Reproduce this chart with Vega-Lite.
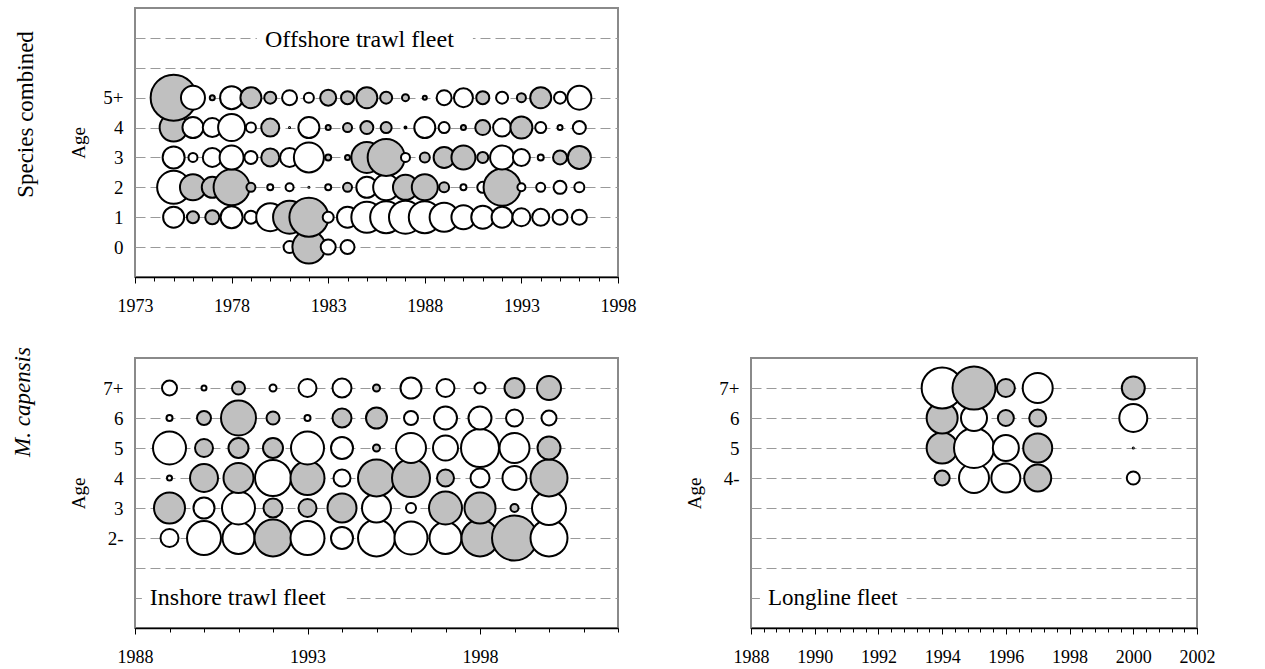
{
  "$schema": "https://vega.github.io/schema/vega-lite/v6.json",
  "padding": {"left": 10, "top": 7, "right": 5, "bottom": 5},
  "background": "white",
  "bounds": "flush",
  "spacing": 81,
  "config": {
    "font": "Liberation Serif",
    "view": {"stroke": "#8a8a8a", "strokeWidth": 2},
    "axis": {
      "labelFont": "Liberation Serif", "labelFontSize": 18, "labelColor": "#000000",
      "titleFont": "Liberation Serif", "titleFontSize": 19, "titleFontWeight": "normal", "titleColor": "#000000",
      "domainColor": "#000000", "tickColor": "#000000", "labelFlush": false, "labelOverlap": false, "labelBound": false
    },
    "title": {"font": "Liberation Serif", "fontSize": 23, "fontWeight": "normal", "color": "#000000"}
  },
  "datasets": {
    "offshore": [
      {"year":1981,"age":0,"resid":1.44,"sign":"pos"},{"year":1982,"age":0,"resid":10.89,"sign":"neg"},{"year":1983,"age":0,"resid":2.25,"sign":"pos"},{"year":1984,"age":0,"resid":1.96,"sign":"pos"},
      {"year":1975,"age":1,"resid":4.41,"sign":"pos"},{"year":1976,"age":1,"resid":1.44,"sign":"neg"},{"year":1977,"age":1,"resid":1.96,"sign":"neg"},{"year":1978,"age":1,"resid":4.84,"sign":"pos"},{"year":1979,"age":1,"resid":1.69,"sign":"pos"},{"year":1980,"age":1,"resid":7.84,"sign":"pos"},{"year":1981,"age":1,"resid":10.89,"sign":"neg"},{"year":1982,"age":1,"resid":15.21,"sign":"neg"},{"year":1983,"age":1,"resid":1.21,"sign":"pos"},{"year":1984,"age":1,"resid":4.41,"sign":"pos"},{"year":1985,"age":1,"resid":9.61,"sign":"pos"},{"year":1986,"age":1,"resid":10.24,"sign":"pos"},{"year":1987,"age":1,"resid":10.89,"sign":"pos"},{"year":1988,"age":1,"resid":10.24,"sign":"pos"},{"year":1989,"age":1,"resid":8.41,"sign":"pos"},{"year":1990,"age":1,"resid":5.76,"sign":"pos"},{"year":1991,"age":1,"resid":5.29,"sign":"pos"},{"year":1992,"age":1,"resid":4.41,"sign":"pos"},{"year":1993,"age":1,"resid":3.24,"sign":"pos"},{"year":1994,"age":1,"resid":2.89,"sign":"pos"},{"year":1995,"age":1,"resid":2.25,"sign":"pos"},{"year":1996,"age":1,"resid":2.25,"sign":"pos"},
      {"year":1975,"age":2,"resid":10.89,"sign":"pos"},{"year":1976,"age":2,"resid":6.76,"sign":"neg"},{"year":1977,"age":2,"resid":4.41,"sign":"neg"},{"year":1978,"age":2,"resid":12.96,"sign":"neg"},{"year":1979,"age":2,"resid":0.81,"sign":"neg"},{"year":1980,"age":2,"resid":0.36,"sign":"pos"},{"year":1981,"age":2,"resid":0.64,"sign":"pos"},{"year":1982,"age":2,"resid":0.01,"sign":"neg"},{"year":1983,"age":2,"resid":0.36,"sign":"pos"},{"year":1984,"age":2,"resid":0.81,"sign":"neg"},{"year":1985,"age":2,"resid":4.41,"sign":"pos"},{"year":1986,"age":2,"resid":6.76,"sign":"pos"},{"year":1987,"age":2,"resid":6.25,"sign":"neg"},{"year":1988,"age":2,"resid":6.76,"sign":"neg"},{"year":1989,"age":2,"resid":1.0,"sign":"neg"},{"year":1990,"age":2,"resid":0.36,"sign":"pos"},{"year":1991,"age":2,"resid":1.21,"sign":"pos"},{"year":1992,"age":2,"resid":13.69,"sign":"neg"},{"year":1993,"age":2,"resid":0.64,"sign":"pos"},{"year":1994,"age":2,"resid":0.81,"sign":"pos"},{"year":1995,"age":2,"resid":1.69,"sign":"pos"},{"year":1996,"age":2,"resid":1.0,"sign":"pos"},
      {"year":1975,"age":3,"resid":4.84,"sign":"pos"},{"year":1976,"age":3,"resid":0.81,"sign":"pos"},{"year":1977,"age":3,"resid":3.61,"sign":"pos"},{"year":1978,"age":3,"resid":5.76,"sign":"pos"},{"year":1979,"age":3,"resid":1.69,"sign":"pos"},{"year":1980,"age":3,"resid":3.24,"sign":"neg"},{"year":1981,"age":3,"resid":3.61,"sign":"pos"},{"year":1982,"age":3,"resid":9.0,"sign":"pos"},{"year":1983,"age":3,"resid":0.36,"sign":"neg"},{"year":1984,"age":3,"resid":0.25,"sign":"neg"},{"year":1985,"age":3,"resid":9.61,"sign":"neg"},{"year":1986,"age":3,"resid":13.69,"sign":"neg"},{"year":1987,"age":3,"resid":0.81,"sign":"pos"},{"year":1988,"age":3,"resid":1.0,"sign":"neg"},{"year":1989,"age":3,"resid":4.41,"sign":"neg"},{"year":1990,"age":3,"resid":5.76,"sign":"neg"},{"year":1991,"age":3,"resid":1.21,"sign":"neg"},{"year":1992,"age":3,"resid":5.76,"sign":"pos"},{"year":1993,"age":3,"resid":2.89,"sign":"pos"},{"year":1994,"age":3,"resid":0.36,"sign":"pos"},{"year":1995,"age":3,"resid":1.96,"sign":"neg"},{"year":1996,"age":3,"resid":5.29,"sign":"neg"},
      {"year":1975,"age":4,"resid":7.84,"sign":"neg"},{"year":1976,"age":4,"resid":4.41,"sign":"pos"},{"year":1977,"age":4,"resid":3.61,"sign":"pos"},{"year":1978,"age":4,"resid":7.29,"sign":"pos"},{"year":1979,"age":4,"resid":1.0,"sign":"pos"},{"year":1980,"age":4,"resid":3.24,"sign":"neg"},{"year":1981,"age":4,"resid":0.01,"sign":"neg"},{"year":1982,"age":4,"resid":4.41,"sign":"pos"},{"year":1983,"age":4,"resid":0.25,"sign":"neg"},{"year":1984,"age":4,"resid":0.81,"sign":"neg"},{"year":1985,"age":4,"resid":1.69,"sign":"neg"},{"year":1986,"age":4,"resid":1.21,"sign":"neg"},{"year":1987,"age":4,"resid":0.04,"sign":"neg"},{"year":1988,"age":4,"resid":4.41,"sign":"pos"},{"year":1989,"age":4,"resid":1.21,"sign":"pos"},{"year":1990,"age":4,"resid":0.25,"sign":"neg"},{"year":1991,"age":4,"resid":2.25,"sign":"neg"},{"year":1992,"age":4,"resid":3.24,"sign":"pos"},{"year":1993,"age":4,"resid":4.84,"sign":"neg"},{"year":1994,"age":4,"resid":1.21,"sign":"pos"},{"year":1995,"age":4,"resid":0.25,"sign":"pos"},{"year":1996,"age":4,"resid":1.69,"sign":"pos"},
      {"year":1975,"age":5,"resid":21.16,"sign":"neg"},{"year":1976,"age":5,"resid":5.76,"sign":"pos"},{"year":1977,"age":5,"resid":0.25,"sign":"neg"},{"year":1978,"age":5,"resid":5.29,"sign":"pos"},{"year":1979,"age":5,"resid":4.41,"sign":"neg"},{"year":1980,"age":5,"resid":1.44,"sign":"neg"},{"year":1981,"age":5,"resid":2.25,"sign":"pos"},{"year":1982,"age":5,"resid":1.0,"sign":"pos"},{"year":1983,"age":5,"resid":2.56,"sign":"neg"},{"year":1984,"age":5,"resid":1.69,"sign":"neg"},{"year":1985,"age":5,"resid":4.41,"sign":"neg"},{"year":1986,"age":5,"resid":1.44,"sign":"neg"},{"year":1987,"age":5,"resid":0.49,"sign":"neg"},{"year":1988,"age":5,"resid":0.16,"sign":"neg"},{"year":1989,"age":5,"resid":2.25,"sign":"pos"},{"year":1990,"age":5,"resid":3.61,"sign":"pos"},{"year":1991,"age":5,"resid":1.69,"sign":"neg"},{"year":1992,"age":5,"resid":1.44,"sign":"pos"},{"year":1993,"age":5,"resid":0.81,"sign":"neg"},{"year":1994,"age":5,"resid":4.41,"sign":"neg"},{"year":1995,"age":5,"resid":1.44,"sign":"pos"},{"year":1996,"age":5,"resid":5.76,"sign":"pos"}
    ],
    "inshore": [
      {"year":1989,"age":2,"resid":3.24,"sign":"pos"},{"year":1990,"age":2,"resid":11.56,"sign":"pos"},{"year":1991,"age":2,"resid":10.24,"sign":"pos"},{"year":1992,"age":2,"resid":13.69,"sign":"neg"},{"year":1993,"age":2,"resid":11.56,"sign":"pos"},{"year":1994,"age":2,"resid":4.84,"sign":"pos"},{"year":1995,"age":2,"resid":13.69,"sign":"pos"},{"year":1996,"age":2,"resid":10.89,"sign":"pos"},{"year":1997,"age":2,"resid":10.24,"sign":"pos"},{"year":1998,"age":2,"resid":13.69,"sign":"neg"},{"year":1999,"age":2,"resid":20.25,"sign":"neg"},{"year":2000,"age":2,"resid":13.69,"sign":"pos"},
      {"year":1989,"age":3,"resid":9.61,"sign":"neg"},{"year":1990,"age":3,"resid":4.41,"sign":"pos"},{"year":1991,"age":3,"resid":10.89,"sign":"pos"},{"year":1992,"age":3,"resid":3.61,"sign":"neg"},{"year":1993,"age":3,"resid":3.24,"sign":"neg"},{"year":1994,"age":3,"resid":8.41,"sign":"neg"},{"year":1995,"age":3,"resid":8.41,"sign":"pos"},{"year":1996,"age":3,"resid":1.0,"sign":"pos"},{"year":1997,"age":3,"resid":10.89,"sign":"neg"},{"year":1998,"age":3,"resid":9.61,"sign":"neg"},{"year":1999,"age":3,"resid":0.64,"sign":"neg"},{"year":2000,"age":3,"resid":11.56,"sign":"pos"},
      {"year":1989,"age":4,"resid":0.25,"sign":"pos"},{"year":1990,"age":4,"resid":7.84,"sign":"neg"},{"year":1991,"age":4,"resid":9.0,"sign":"neg"},{"year":1992,"age":4,"resid":12.96,"sign":"pos"},{"year":1993,"age":4,"resid":11.56,"sign":"neg"},{"year":1994,"age":4,"resid":2.89,"sign":"pos"},{"year":1995,"age":4,"resid":13.69,"sign":"neg"},{"year":1996,"age":4,"resid":14.44,"sign":"neg"},{"year":1997,"age":4,"resid":2.89,"sign":"neg"},{"year":1998,"age":4,"resid":3.61,"sign":"pos"},{"year":1999,"age":4,"resid":5.76,"sign":"pos"},{"year":2000,"age":4,"resid":13.69,"sign":"neg"},
      {"year":1989,"age":5,"resid":10.89,"sign":"pos"},{"year":1990,"age":5,"resid":3.24,"sign":"neg"},{"year":1991,"age":5,"resid":4.0,"sign":"neg"},{"year":1992,"age":5,"resid":4.0,"sign":"neg"},{"year":1993,"age":5,"resid":10.89,"sign":"pos"},{"year":1994,"age":5,"resid":4.84,"sign":"pos"},{"year":1995,"age":5,"resid":0.49,"sign":"neg"},{"year":1996,"age":5,"resid":9.0,"sign":"pos"},{"year":1997,"age":5,"resid":6.25,"sign":"pos"},{"year":1998,"age":5,"resid":14.44,"sign":"pos"},{"year":1999,"age":5,"resid":9.0,"sign":"pos"},{"year":2000,"age":5,"resid":5.29,"sign":"neg"},
      {"year":1989,"age":6,"resid":0.36,"sign":"pos"},{"year":1990,"age":6,"resid":1.96,"sign":"neg"},{"year":1991,"age":6,"resid":12.25,"sign":"neg"},{"year":1992,"age":6,"resid":1.69,"sign":"neg"},{"year":1993,"age":6,"resid":0.36,"sign":"pos"},{"year":1994,"age":6,"resid":3.61,"sign":"neg"},{"year":1995,"age":6,"resid":4.41,"sign":"neg"},{"year":1996,"age":6,"resid":1.96,"sign":"pos"},{"year":1997,"age":6,"resid":5.29,"sign":"pos"},{"year":1998,"age":6,"resid":5.29,"sign":"pos"},{"year":1999,"age":6,"resid":2.89,"sign":"pos"},{"year":2000,"age":6,"resid":2.25,"sign":"pos"},
      {"year":1989,"age":7,"resid":2.25,"sign":"pos"},{"year":1990,"age":7,"resid":0.25,"sign":"pos"},{"year":1991,"age":7,"resid":1.69,"sign":"neg"},{"year":1992,"age":7,"resid":0.49,"sign":"pos"},{"year":1993,"age":7,"resid":3.24,"sign":"pos"},{"year":1994,"age":7,"resid":3.61,"sign":"pos"},{"year":1995,"age":7,"resid":0.49,"sign":"neg"},{"year":1996,"age":7,"resid":4.41,"sign":"pos"},{"year":1997,"age":7,"resid":3.24,"sign":"pos"},{"year":1998,"age":7,"resid":1.21,"sign":"pos"},{"year":1999,"age":7,"resid":4.0,"sign":"neg"},{"year":2000,"age":7,"resid":5.76,"sign":"neg"}
    ],
    "longline": [
      {"year":1994,"age":4,"resid":2.25,"sign":"neg"},{"year":1995,"age":4,"resid":9.0,"sign":"pos"},{"year":1996,"age":4,"resid":8.41,"sign":"pos"},{"year":1997,"age":4,"resid":7.29,"sign":"neg"},{"year":2000,"age":4,"resid":1.69,"sign":"pos"},
      {"year":1994,"age":5,"resid":9.61,"sign":"neg"},{"year":1995,"age":5,"resid":16.0,"sign":"pos"},{"year":1996,"age":5,"resid":6.76,"sign":"pos"},{"year":1997,"age":5,"resid":8.41,"sign":"neg"},{"year":2000,"age":5,"resid":0.01,"sign":"neg"},
      {"year":1994,"age":6,"resid":9.61,"sign":"neg"},{"year":1995,"age":6,"resid":6.76,"sign":"pos"},{"year":1996,"age":6,"resid":2.56,"sign":"neg"},{"year":1997,"age":6,"resid":2.89,"sign":"neg"},{"year":2000,"age":6,"resid":7.84,"sign":"pos"},
      {"year":1994,"age":7,"resid":16.81,"sign":"pos"},{"year":1995,"age":7,"resid":18.49,"sign":"neg"},{"year":1996,"age":7,"resid":3.24,"sign":"neg"},{"year":1997,"age":7,"resid":9.0,"sign":"pos"},{"year":2000,"age":7,"resid":5.29,"sign":"neg"}
    ]
  },
  "vconcat": [
    {
      "width": 483, "height": 269,
      "title": {"text": "Species combined", "orient": "left", "anchor": "middle", "dx": 28, "offset": 32},
      "resolve": {"axis": {"x": "independent", "y": "independent"}},
      "layer": [
        {
          "data": {"values": [{"label": "Offshore trawl fleet"}]},
          "mark": {"type": "rect", "fill": "white"},
          "encoding": {
            "x": {"datum": 1979.31, "type": "quantitative", "scale": {"domain": [1973, 1998], "nice": false, "zero": false},
              "axis": {"orient": "bottom", "values": [1973,1974,1975,1976,1977,1978,1979,1980,1981,1982,1983,1984,1985,1986,1987,1988,1989,1990,1991,1992,1993,1994,1995,1996,1997,1998],
                "labels": false, "tickSize": 4, "domain": true, "domainWidth": 1.5, "grid": false, "title": null}},
            "x2": {"datum": 1990.49},
            "y": {"datum": 6.7, "type": "quantitative", "scale": {"domain": [-1, 8], "nice": false, "zero": false},
              "axis": {"orient": "left", "values": [0,1,2,3,4,5,6,7], "labels": false, "ticks": false, "domain": false, "grid": true,
                "gridDash": [10,5], "gridColor": "#9a9a9a", "gridWidth": 1.2, "title": null}},
            "y2": {"datum": 7.3}
          }
        },
        {
          "data": {"values": [{"label": "Offshore trawl fleet"}]},
          "mark": {"type": "text", "align": "left", "baseline": "middle", "dy": 2, "fontSize": 24, "font": "Liberation Serif", "color": "#000000"},
          "encoding": {"x": {"datum": 1979.73, "type": "quantitative", "axis": null}, "y": {"datum": 7, "type": "quantitative", "axis": null}, "text": {"field": "label"}}
        },
        {
          "data": {"name": "offshore"},
          "mark": {"type": "circle", "stroke": "#000000", "strokeWidth": 2, "opacity": 1},
          "encoding": {
            "x": {"field": "year", "type": "quantitative", "scale": {"domain": [1973, 1998], "nice": false, "zero": false},
              "axis": {"orient": "bottom", "values": [1973,1978,1983,1988,1993,1998], "format": "d", "grid": false, "title": null, "domain": false,
                "tickSize": 6, "labelPadding": 14, "labelFontSize": 18, "labelOverlap": false, "labelFlush": false, "labelBound": false}},
            "y": {"field": "age", "type": "quantitative", "scale": {"domain": [-1, 8], "nice": false, "zero": false},
              "axis": {"orient": "left", "values": [0,1,2,3,4,5], "labelExpr": "datum.value===5 ? '5+' : datum.label",
                "labelOverlap": false, "labelFlush": false, "labelBound": false, "labelFontSize": 19,
                "ticks": false, "tickSize": 0, "domain": false, "grid": false,
                "labelPadding": 12, "title": "Age", "titlePadding": 14}},
            "size": {"field": "resid", "type": "quantitative", "scale": {"type": "linear", "domain": [0, 25], "range": [0, 2500]}, "legend": null},
            "fill": {"field": "sign", "type": "nominal", "scale": {"domain": ["neg", "pos"], "range": ["#c0c0c0", "#ffffff"]}, "legend": null}
          }
        }
      ]
    },
    {
      "bounds": "flush",
      "spacing": 133,
      "hconcat": [
        {
          "width": 483, "height": 270,
          "title": {"text": "M. capensis", "orient": "left", "anchor": "middle", "dx": 91, "offset": 35, "fontStyle": "italic"},
          "resolve": {"axis": {"x": "independent", "y": "independent"}},
          "layer": [
            {
              "data": {"values": [{"label": "Inshore trawl fleet"}]},
              "mark": {"type": "rect", "fill": "white"},
              "encoding": {
                "x": {"datum": 1988.2, "type": "quantitative", "scale": {"domain": [1988, 2002], "nice": false, "zero": false},
                  "axis": {"orient": "bottom", "values": [1988,1989,1990,1991,1992,1993,1994,1995,1996,1997,1998,1999,2000,2001,2002],
                    "labels": false, "tickSize": 4, "domain": true, "domainWidth": 1.5, "grid": false, "title": null}},
                "x2": {"datum": 1994.14},
                "y": {"datum": -0.3, "type": "quantitative", "scale": {"domain": [-1, 8], "nice": false, "zero": false},
                  "axis": {"orient": "left", "values": [0,1,2,3,4,5,6,7], "labels": false, "ticks": false, "domain": false, "grid": true,
                    "gridDash": [10,5], "gridColor": "#9a9a9a", "gridWidth": 1.2, "title": null}},
                "y2": {"datum": 0.3}
              }
            },
            {
              "data": {"values": [{"label": "Inshore trawl fleet"}]},
              "mark": {"type": "text", "align": "left", "baseline": "middle", "fontSize": 24, "font": "Liberation Serif", "color": "#000000"},
              "encoding": {"x": {"datum": 1988.43, "type": "quantitative", "axis": null}, "y": {"datum": 0, "type": "quantitative", "axis": null}, "text": {"field": "label"}}
            },
            {
              "data": {"name": "inshore"},
              "mark": {"type": "circle", "stroke": "#000000", "strokeWidth": 2, "opacity": 1},
              "encoding": {
                "x": {"field": "year", "type": "quantitative", "scale": {"domain": [1988, 2002], "nice": false, "zero": false},
                  "axis": {"orient": "bottom", "values": [1988,1993,1998], "format": "d", "grid": false, "title": null, "domain": false,
                    "tickSize": 6, "labelPadding": 14, "labelFontSize": 18, "labelOverlap": false, "labelFlush": false, "labelBound": false}},
                "y": {"field": "age", "type": "quantitative", "scale": {"domain": [-1, 8], "nice": false, "zero": false},
                  "axis": {"orient": "left", "values": [2,3,4,5,6,7], "labelExpr": "datum.value===7 ? '7+' : (datum.value===2 ? '2-' : datum.label)",
                    "labelOverlap": false, "labelFlush": false, "labelBound": false, "labelFontSize": 19,
                    "ticks": false, "tickSize": 0, "domain": false, "grid": false,
                    "labelPadding": 12, "title": "Age", "titlePadding": 14}},
                "size": {"field": "resid", "type": "quantitative", "scale": {"type": "linear", "domain": [0, 25], "range": [0, 2500]}, "legend": null},
                "fill": {"field": "sign", "type": "nominal", "scale": {"domain": ["neg", "pos"], "range": ["#c0c0c0", "#ffffff"]}, "legend": null}
              }
            }
          ]
        },
        {
          "width": 446, "height": 270,
          "resolve": {"axis": {"x": "independent", "y": "independent"}},
          "layer": [
            {
              "data": {"values": [{"label": "Longline fleet"}]},
              "mark": {"type": "rect", "fill": "white"},
              "encoding": {
                "x": {"datum": 1988.28, "type": "quantitative", "scale": {"domain": [1988, 2002], "nice": false, "zero": false},
                  "axis": {"orient": "bottom", "values": [1988,1988.4,1988.8,1989.2,1989.6,1990,1990.4,1990.8,1991.2,1991.6,1992,1992.4,1992.8,1993.2,1993.6,1994,1994.4,1994.8,1995.2,1995.6,1996,1996.4,1996.8,1997.2,1997.6,1998,1998.4,1998.8,1999.2,1999.6,2000,2000.4,2000.8,2001.2,2001.6,2002],
                    "labels": false, "tickSize": 4, "domain": true, "domainWidth": 1.5, "grid": false, "title": null}},
                "x2": {"datum": 1992.89},
                "y": {"datum": -0.3, "type": "quantitative", "scale": {"domain": [-1, 8], "nice": false, "zero": false},
                  "axis": {"orient": "left", "values": [0,1,2,3,4,5,6,7], "labels": false, "ticks": false, "domain": false, "grid": true,
                    "gridDash": [10,5], "gridColor": "#9a9a9a", "gridWidth": 1.2, "title": null}},
                "y2": {"datum": 0.3}
              }
            },
            {
              "data": {"values": [{"label": "Longline fleet"}]},
              "mark": {"type": "text", "align": "left", "baseline": "middle", "fontSize": 23, "font": "Liberation Serif", "color": "#000000"},
              "encoding": {"x": {"datum": 1988.53, "type": "quantitative", "axis": null}, "y": {"datum": 0, "type": "quantitative", "axis": null}, "text": {"field": "label"}}
            },
            {
              "data": {"name": "longline"},
              "mark": {"type": "circle", "stroke": "#000000", "strokeWidth": 2, "opacity": 1},
              "encoding": {
                "x": {"field": "year", "type": "quantitative", "scale": {"domain": [1988, 2002], "nice": false, "zero": false},
                  "axis": {"orient": "bottom", "values": [1988,1990,1992,1994,1996,1998,2000,2002], "format": "d", "grid": false, "title": null, "domain": false,
                    "tickSize": 6, "labelPadding": 14, "labelFontSize": 18, "labelOverlap": false, "labelFlush": false, "labelBound": false}},
                "y": {"field": "age", "type": "quantitative", "scale": {"domain": [-1, 8], "nice": false, "zero": false},
                  "axis": {"orient": "left", "values": [4,5,6,7], "labelExpr": "datum.value===7 ? '7+' : (datum.value===4 ? '4-' : datum.label)",
                    "labelOverlap": false, "labelFlush": false, "labelBound": false, "labelFontSize": 19,
                    "ticks": false, "tickSize": 0, "domain": false, "grid": false,
                    "labelPadding": 12, "title": "Age", "titlePadding": 14}},
                "size": {"field": "resid", "type": "quantitative", "scale": {"type": "linear", "domain": [0, 25], "range": [0, 2500]}, "legend": null},
                "fill": {"field": "sign", "type": "nominal", "scale": {"domain": ["neg", "pos"], "range": ["#c0c0c0", "#ffffff"]}, "legend": null}
              }
            }
          ]
        }
      ]
    }
  ]
}
